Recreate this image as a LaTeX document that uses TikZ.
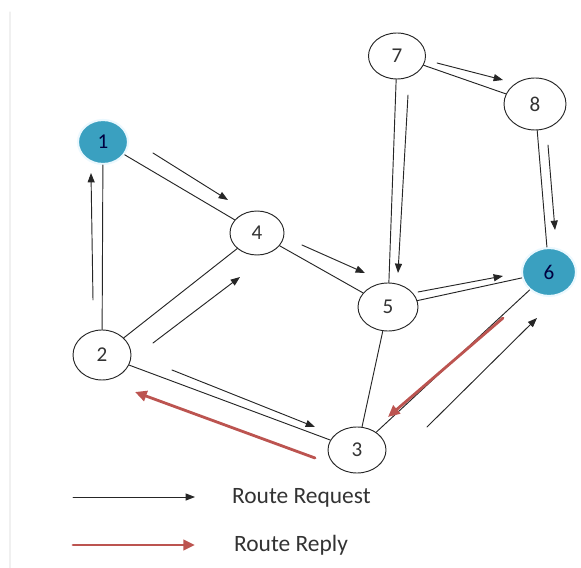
\documentclass[tikz,border=0pt]{standalone}
\usepackage{fontspec}
\setmainfont{Carlito}
\usepackage{tikz}
\usetikzlibrary{shapes.geometric,arrows.meta}
\definecolor{knotblau}{RGB}{58,160,192}
\definecolor{antwortrot}{RGB}{188,84,80}

\begin{document}
\begin{tikzpicture}[x=0.03cm, y=-0.03cm, >={Triangle[length=8pt,width=6pt]}, line cap=round, line join=round,
	knoten/.style={ellipse, draw=black!85, line width=0.8pt, inner sep=0pt, text=black!80, font=\fontsize{18}{20}\selectfont},
	ziel/.style={knoten, fill=knotblau, draw=cyan!8, line width=1.8pt, text=blue!25!black},
	anfrage/.style={->, line width=0.8pt, black!85},
	antwort/.style={-{Triangle[length=10pt,width=9pt]}, line width=2.4pt, draw=antwortrot, fill=antwortrot}]
	
	% --- Rahmen (Bildgroesse) ---
	\useasboundingbox (0,0) rectangle (581,568);
	\draw[gray!12, line width=1pt] (10,12) -- (10,568);
	
	% --- Knoten ---
	\node[ziel,   minimum width=1.5cm,  minimum height=1.32cm] (n1) at (103,142) {1};
	\node[knoten, minimum width=1.74cm, minimum height=1.5cm]  (n2) at (102,355) {2};
	\node[knoten, minimum width=1.74cm, minimum height=1.38cm] (n3) at (357,450) {3};
	\node[knoten, minimum width=1.62cm, minimum height=1.32cm] (n4) at (257,233) {4};
	\node[knoten, minimum width=1.8cm,  minimum height=1.44cm] (n5) at (388,307) {5};
	\node[ziel,   minimum width=1.62cm, minimum height=1.44cm] (n6) at (549,272) {6};
	\node[knoten, minimum width=1.71cm, minimum height=1.38cm] (n7) at (397,56)  {7};
	\node[knoten, minimum width=1.86cm, minimum height=1.56cm] (n8) at (535,104) {8};
	
	% --- Verbindungen ---
	\draw[line width=0.8pt, black!85] (n1) -- (n4);
	\draw[line width=0.8pt, black!85] (n2) -- (n1);
	\draw[line width=0.8pt, black!85] (n2) -- (n4);
	\draw[line width=0.8pt, black!85] (n4) -- (n5);
	\draw[line width=0.8pt, black!85] (n7) -- (n5);
	\draw[line width=0.8pt, black!85] (n7) -- (n8);
	\draw[line width=0.8pt, black!85] (n8) -- (n6);
	\draw[line width=0.8pt, black!85] (n5) -- (n6);
	\draw[line width=0.8pt, black!85] (n5) -- (n3);
	\draw[line width=0.8pt, black!85] (n2) -- (n3);
	\draw[line width=0.8pt, black!85] (n3) -- (n6);
	
	% --- Pfeilenden (neben den Kanten) ---
	\coordinate (a14) at (153,153); \coordinate (b14) at (228,200);
	\coordinate (a21) at (93,300);  \coordinate (b21) at (91,173);
	\coordinate (a24) at (153,343); \coordinate (b24) at (240,277);
	\coordinate (a45) at (302,245); \coordinate (b45) at (365,273);
	\coordinate (a75) at (408,95);  \coordinate (b75) at (398,273);
	\coordinate (a78) at (437,63);  \coordinate (b78) at (503,80);
	\coordinate (a86) at (548,145); \coordinate (b86) at (555,230);
	\coordinate (a56) at (418,292); \coordinate (b56) at (503,276);
	\coordinate (a23) at (172,370); \coordinate (b23) at (315,427);
	\coordinate (a36) at (427,427); \coordinate (b36) at (537,318);
	\coordinate (a32) at (315,458); \coordinate (b32) at (135,392);
	\coordinate (a63) at (503,318); \coordinate (b63) at (388,417);
	
	% --- Route Request ---
	\draw[anfrage] (a14) -- (b14);
	\draw[anfrage] (a21) -- (b21);
	\draw[anfrage] (a24) -- (b24);
	\draw[anfrage] (a45) -- (b45);
	\draw[anfrage] (a75) -- (b75);
	\draw[anfrage] (a78) -- (b78);
	\draw[anfrage] (a86) -- (b86);
	\draw[anfrage] (a56) -- (b56);
	\draw[anfrage] (a23) -- (b23);
	\draw[anfrage] (a36) -- (b36);
	
	% --- Route Reply ---
	\draw[antwort] (a63) -- (b63);
	\draw[antwort] (a32) -- (b32);
	
	% --- Legende ---
	\coordinate (la1) at (73,497); \coordinate (lb1) at (195,497);
	\coordinate (la2) at (73,545); \coordinate (lb2) at (195,545);
	\draw[anfrage] (la1) -- (lb1);
	\draw[antwort] (la2) -- (lb2);
	\node[anchor=west, text=black!80, font=\fontsize{20}{22}\selectfont] (txtreq) at (228,498) {Route Request};
	\node[anchor=west, text=black!80, font=\fontsize{20}{22}\selectfont] (txtrep) at (230,545) {Route Reply};
	
\end{tikzpicture}
\end{document}
